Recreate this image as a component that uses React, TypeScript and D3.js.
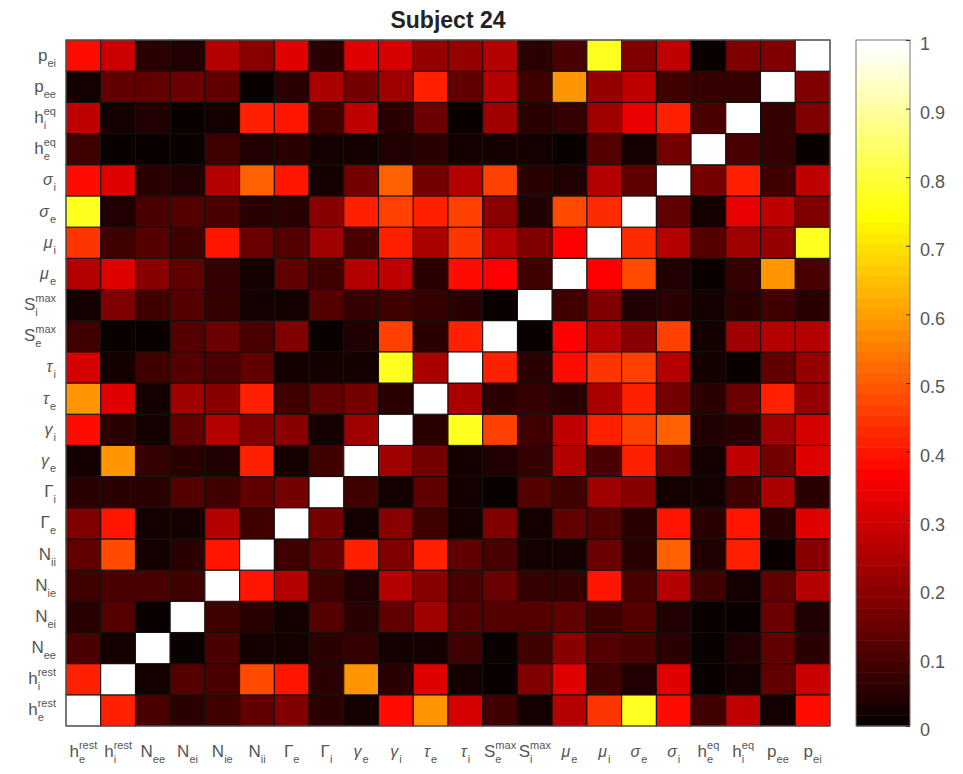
import React, { useEffect, useRef } from 'react';
import * as d3 from 'd3';

// variable names in column order (left to right); the rows run the other way
const labelBase = ['h', 'h', 'N', 'N', 'N', 'N', 'Γ', 'Γ', 'γ', 'γ', 'τ', 'τ', 'S', 'S', 'μ', 'μ', 'σ', 'σ', 'h', 'h', 'p', 'p'];
const labelSub = ['e', 'i', 'ee', 'ei', 'ie', 'ii', 'e', 'i', 'e', 'i', 'e', 'i', 'e', 'i', 'e', 'i', 'e', 'i', 'e', 'i', 'ee', 'ei'];
const labelSup = ['rest', 'rest', '', '', '', '', '', '', '', '', '', '', 'max', 'max', '', '', '', '', 'eq', 'eq', '', ''];

// lower triangle of the (symmetric) matrix: each variable against the ones before it
const hERest: number[] = [];
const hIRest = [0.42];
const nEE = [0.10, 0.03];
const nEI = [0.05, 0.12, 0.01];
const nIE = [0.08, 0.10, 0.10, 0.09];
const nII = [0.14, 0.47, 0.02, 0.05, 0.40];
const gammaCapE = [0.18, 0.40, 0.02, 0.03, 0.26, 0.08];
const gammaCapI = [0.05, 0.05, 0.05, 0.12, 0.09, 0.13, 0.16];
const gammaE = [0.02, 0.59, 0.07, 0.06, 0.04, 0.41, 0.03, 0.09];
const gammaI = [0.38, 0.05, 0.03, 0.14, 0.25, 0.18, 0.19, 0.03, 0.22];
const tauE = [0.59, 0.32, 0.03, 0.22, 0.19, 0.41, 0.09, 0.14, 0.16, 0.05];
const tauI = [0.31, 0.03, 0.08, 0.12, 0.10, 0.13, 0.02, 0.02, 0.02, 0.78, 0.235];
const sMaxE = [0.09, 0.01, 0.01, 0.12, 0.15, 0.10, 0.18, 0.01, 0.04, 0.46, 0.05, 0.41];
const sMaxI = [0.03, 0.18, 0.08, 0.12, 0.07, 0.03, 0.02, 0.12, 0.07, 0.09, 0.07, 0.05, 0.01];
const muE = [0.25, 0.32, 0.20, 0.14, 0.07, 0.02, 0.14, 0.08, 0.25, 0.28, 0.05, 0.38, 0.36, 0.09];
const muI = [0.44, 0.09, 0.12, 0.09, 0.40, 0.15, 0.12, 0.22, 0.10, 0.41, 0.235, 0.44, 0.25, 0.18, 0.36];
const sigmaE = [0.77, 0.04, 0.10, 0.12, 0.10, 0.05, 0.06, 0.19, 0.41, 0.46, 0.42, 0.46, 0.20, 0.04, 0.48, 0.43];
const sigmaI = [0.38, 0.32, 0.06, 0.04, 0.26, 0.50, 0.40, 0.03, 0.16, 0.50, 0.16, 0.26, 0.46, 0.06, 0.04, 0.25, 0.14];
const hEEq = [0.09, 0.01, 0.01, 0.01, 0.08, 0.04, 0.06, 0.02, 0.03, 0.04, 0.06, 0.03, 0.02, 0.03, 0.01, 0.12, 0.03, 0.16];
const hIEq = [0.28, 0.02, 0.04, 0.01, 0.02, 0.41, 0.40, 0.08, 0.28, 0.06, 0.15, 0.01, 0.22, 0.05, 0.07, 0.23, 0.33, 0.42, 0.10];
const pEE = [0.03, 0.13, 0.13, 0.15, 0.13, 0.015, 0.05, 0.235, 0.16, 0.22, 0.42, 0.14, 0.26, 0.09, 0.58, 0.21, 0.27, 0.09, 0.07, 0.07];
const pEI = [0.39, 0.29, 0.05, 0.04, 0.26, 0.19, 0.32, 0.05, 0.32, 0.31, 0.21, 0.21, 0.26, 0.06, 0.10, 0.78, 0.18, 0.27, 0.01, 0.18, 0.18];

const colorTicks = [0, 0.1, 0.2, 0.3, 0.4, 0.5, 0.6, 0.7, 0.8, 0.9, 1];

// matlab "hot", 64 levels
const hot = (v: number) => {
  const i = Math.max(1, Math.min(64, Math.floor(v * 64) + 1));
  const r = Math.min(1, i / 24);
  const g = Math.min(1, Math.max(0, (i - 24) / 24));
  const b = Math.max(0, (i - 48) / 16);
  return d3.rgb(r * 255, g * 255, b * 255).toString();
};

const App = () => {
  const svgRef = useRef<SVGSVGElement>(null);

  useEffect(() => {
    const lower = [hERest, hIRest, nEE, nEI, nIE, nII, gammaCapE, gammaCapI, gammaE, gammaI, tauE, tauI,
      sMaxE, sMaxI, muE, muI, sigmaE, sigmaI, hEEq, hIEq, pEE, pEI];
    const n = lower.length;
    const cells: { row: number; col: number; value: number }[] = [];
    for (let i = 0; i < n; i++) {
      for (let j = 0; j < n; j++) {
        const value = i === j ? 1 : i > j ? lower[i][j] : lower[j][i];
        cells.push({ row: i, col: j, value });
      }
    }

    const left = 66, right = 830, top = 40, bottom = 726;
    const font = 'Liberation Sans, Arial, Helvetica, sans-serif';
    const textColor = '#555';

    const svg = d3.select(svgRef.current);
    svg.selectAll('*').remove();

    const x = d3.scaleBand<number>().domain(d3.range(n)).range([left, right]);
    const y = d3.scaleBand<number>().domain(d3.range(n).reverse()).range([top, bottom]);

    svg.append('g')
      .selectAll('rect')
      .data(cells)
      .enter().append('rect')
      .attr('x', d => x(d.col)!)
      .attr('y', d => y(d.row)!)
      .attr('width', x.bandwidth())
      .attr('height', y.bandwidth())
      .attr('fill', d => hot(d.value))
      .attr('stroke', '#111')
      .attr('stroke-width', 1);

    svg.append('rect')
      .attr('x', left).attr('y', top)
      .attr('width', right - left).attr('height', bottom - top)
      .attr('fill', 'none').attr('stroke', '#666').attr('stroke-width', 1);

    // label with stacked super / subscript, like matlab tex
    const drawLabel = (k: number) => {
      const g = svg.append('g').attr('font-family', font).attr('fill', textColor);
      const greek = /[γτμσ]/.test(labelBase[k]);
      const base = g.append('text')
        .text(labelBase[k])
        .attr('font-size', greek ? 16 : 17)
        .attr('font-style', greek ? 'italic' : null);
      const bw = (base.node() as SVGTextElement).getComputedTextLength() + (greek ? 1 : 0);
      let extra = 0;
      if (labelSup[k]) {
        const t = g.append('text').text(labelSup[k]).attr('font-size', 11).attr('x', bw).attr('y', -8);
        extra = Math.max(extra, (t.node() as SVGTextElement).getComputedTextLength());
      }
      if (labelSub[k]) {
        const t = g.append('text').text(labelSub[k]).attr('font-size', 11).attr('x', bw).attr('y', 6);
        extra = Math.max(extra, (t.node() as SVGTextElement).getComputedTextLength());
      }
      return { g, width: bw + extra };
    };

    d3.range(n).forEach(k => {
      const yl = drawLabel(k);
      yl.g.attr('transform', `translate(${56 - yl.width},${y(k)! + y.bandwidth() / 2 + 5})`);
      const xl = drawLabel(k);
      xl.g.attr('transform', `translate(${x(k)! + x.bandwidth() / 2 - xl.width / 2},${757})`);
    });

    // colorbar
    const cbLeft = 856, cbRight = 910;
    const cScale = d3.scaleLinear().domain([0, 1]).range([bottom, top]);
    svg.append('g')
      .selectAll('rect')
      .data(d3.range(64))
      .enter().append('rect')
      .attr('x', cbLeft)
      .attr('y', i => cScale((i + 1) / 64))
      .attr('width', cbRight - cbLeft)
      .attr('height', cScale(0) - cScale(1 / 64) + 0.5)
      .attr('fill', i => hot(i / 64));
    svg.append('rect')
      .attr('x', cbLeft).attr('y', top)
      .attr('width', cbRight - cbLeft).attr('height', bottom - top)
      .attr('fill', 'none').attr('stroke', '#777').attr('stroke-width', 1);

    const cAxis = svg.append('g')
      .attr('transform', `translate(${cbRight},0)`)
      .call(d3.axisRight(cScale).tickValues(colorTicks).tickFormat(d3.format('')).tickSize(-4).tickPadding(10));
    cAxis.select('.domain').remove();
    cAxis.selectAll('line').attr('stroke', '#333');
    cAxis.selectAll('text')
      .attr('font-family', font)
      .attr('font-size', 18)
      .attr('fill', textColor)
      .attr('dy', '0.55em');

    svg.append('text')
      .attr('x', 448)
      .attr('y', 28)
      .attr('text-anchor', 'middle')
      .attr('font-family', font)
      .attr('font-weight', 'bold')
      .attr('font-size', 23)
      .attr('fill', '#222')
      .text('Subject 24');
  }, []);

  return (
    <svg
      ref={svgRef}
      width={963}
      height={774}
      style={{ position: 'absolute', left: 0, top: 0, background: '#fff' }}
    />
  );
};

export default App;
